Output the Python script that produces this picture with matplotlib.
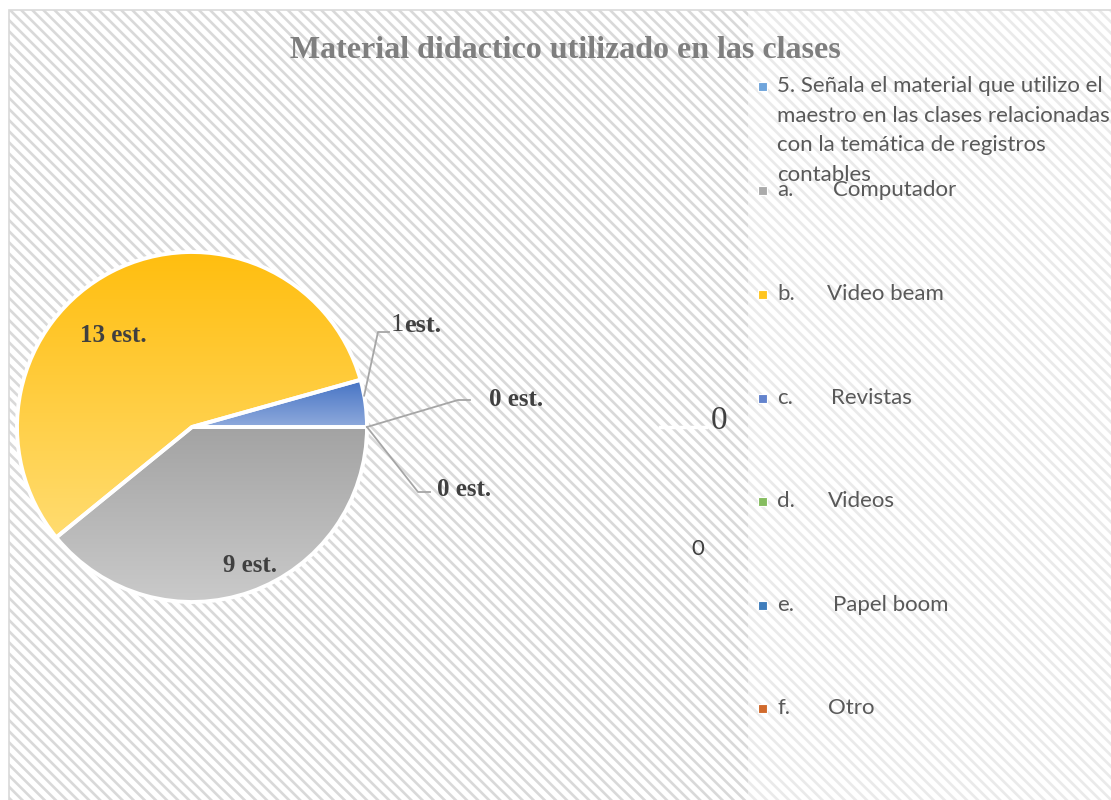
import numpy as np
import matplotlib
matplotlib.use("Agg")
import matplotlib.pyplot as plt
from matplotlib.patches import Rectangle
from matplotlib.colors import LinearSegmentedColormap

# Datos del gráfico
categorias = ["5. Señala el material que utilizo el maestro en las clases relacionadas con la temática de registros contables",
              "a.", "b.", "c.", "d.", "e.", "f."]
nombres = ["", "Computador", "Video beam", "Revistas", "Videos", "Papel boom", "Otro"]
valores = [0, 9, 13, 1, 0, 0, 0]
etiquetas = ["0 est.", "9 est.", "13 est.", "1est.", "0 est.", "0", "0"]

# colores con degradado (arriba, abajo)
col_arriba = ["#5B9BD5", "#A3A3A3", "#FFBE0F", "#4472C4", "#70AD47", "#2E75B6", "#C55A11"]
col_abajo = ["#9DC3E6", "#CACACA", "#FFDC70", "#8FAADC", "#A9D18E", "#5B9BD5", "#F4B183"]
col_legenda = ["#6FA5DC", "#ABABAB", "#FFC520", "#6383CD", "#86BD60", "#3F7DBC", "#D16A2C"]

W, H = 1111, 800
fig = plt.figure(figsize=(W / 100, H / 100), dpi=100)
ax = fig.add_axes([0, 0, 1, 1])

def py(y):
    # de coordenadas de imagen a coordenadas del eje
    return H - y

plt.rcParams["hatch.linewidth"] = 1.9

# fondo rayado
ax.add_patch(Rectangle((9, 0), W - 9, py(10), facecolor="white",
                       edgecolor="#D9D9D9", lw=0, hatch="\\\\\\", zorder=0))
ax.add_patch(Rectangle((748, 0), W - 748, py(10), facecolor="white",
                       edgecolor="none", alpha=0.45, zorder=0.5))
ax.add_patch(Rectangle((9, -5), W, py(10) + 5, facecolor="none",
                       edgecolor="#D9D9D9", lw=1.2, zorder=1))

# pastel
cx, cy, r = 192, py(427), 175
wedges, _ = ax.pie(valores, startangle=0, counterclock=False, center=(cx, cy),
                   radius=r, colors=col_arriba, frame=True,
                   wedgeprops=dict(edgecolor="white", linewidth=2.8))
ax.set_xlim(0, W)
ax.set_ylim(0, H)
ax.axis("off")
for w, c1, c2, v in zip(wedges, col_arriba, col_abajo, valores):
    if v == 0:
        continue
    bb = w.get_path().get_extents()
    cmap = LinearSegmentedColormap.from_list("g", [c2, c1])
    grad = np.linspace(0, 1, 256).reshape(-1, 1)
    im = ax.imshow(grad, cmap=cmap, extent=(bb.x0, bb.x1, bb.y0, bb.y1),
                   origin="lower", aspect="auto", zorder=2)
    im.set_clip_path(w)
    w.set_facecolor("none")
    w.set_zorder(3)

serif = "Liberation Serif"
gris_txt = "#404040"
linea = "#A6A6A6"

# titulo
ax.text(565, py(50), "Material didactico utilizado en las clases", family=serif,
        fontsize=23, fontweight="bold", color="#7F7F7F", ha="center", va="center")

# etiquetas dentro del pastel
ax.text(113, py(335), etiquetas[2], family=serif, fontsize=18, fontweight="bold",
        color=gris_txt, ha="center", va="center", zorder=5)
ax.text(250, py(565), etiquetas[1], family=serif, fontsize=18, fontweight="bold",
        color=gris_txt, ha="center", va="center", zorder=5)

# etiqueta de revistas con linea guia
t1, t2 = wedges[3].theta1, wedges[3].theta2
ang = np.deg2rad(t1 + 0.66 * (t2 - t1))
x0, y0 = cx + r * np.cos(ang), cy + r * np.sin(ang)
ax.plot([x0, 378, 389], [y0, py(332), py(332)], color=linea, lw=1.3, zorder=4)
ax.text(391, py(325), "1", family=serif, fontsize=19, color=gris_txt,
        ha="left", va="center")
ax.text(404, py(325), "est.", family=serif, fontsize=19, fontweight="bold",
        color=gris_txt, ha="left", va="center")

# etiquetas de ceros
xe, ye = cx + r, cy
ax.plot([xe, 458, 470], [ye, py(400), py(400)], color=linea, lw=1.3, zorder=4)
ax.text(489, py(400), etiquetas[0], family=serif, fontsize=18, fontweight="bold",
        color=gris_txt, ha="left", va="center")
ax.plot([xe, 418, 430], [ye, py(492), py(492)], color=linea, lw=1.3, zorder=4)
ax.text(437, py(489), etiquetas[4], family=serif, fontsize=18, fontweight="bold",
        color=gris_txt, ha="left", va="center")
ax.plot([660, 706], [py(427), py(427)], color="white", lw=2.5, zorder=4)
ax.text(711, py(421), etiquetas[5], family=serif, fontsize=24,
        color=gris_txt, ha="left", va="center")
ax.text(698, py(549), etiquetas[6], family="Lato", fontsize=16,
        color=gris_txt, ha="center", va="center")

# leyenda
ley_font = "Lato"
ley_size = 16
ley_col = "#595959"
ys = [86, 190, 294, 398, 501, 605, 708]
x_nombre = [0, 833, 827, 831, 828, 833, 828]
lineas_titulo = ["5. Señala el material que utilizo el",
                 "maestro en las clases relacionadas",
                 "con la temática de registros",
                 "contables"]
for i, (cat, nom, y) in enumerate(zip(categorias, nombres, ys)):
    ax.add_patch(Rectangle((758, py(y) - 4.5), 9, 9, facecolor=col_legenda[i],
                           edgecolor="white", lw=0.8, zorder=5))
    if i == 0:
        for k, txt in enumerate(lineas_titulo):
            ax.text(777, py(y + 29.7 * k), txt, family=ley_font, fontsize=ley_size,
                    color=ley_col, ha="left", va="center", zorder=6)
    else:
        ax.text(777, py(y), cat, family=ley_font, fontsize=ley_size,
                color=ley_col, ha="left", va="center", zorder=6)
        ax.text(x_nombre[i], py(y), nom, family=ley_font, fontsize=ley_size,
                color=ley_col, ha="left", va="center", zorder=6)

fig.savefig("out.png", dpi=100)
